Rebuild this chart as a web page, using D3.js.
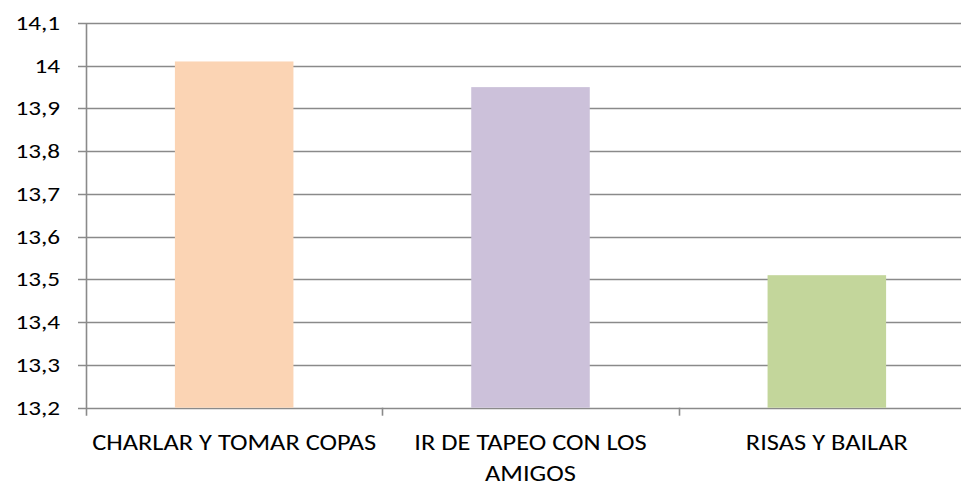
<!DOCTYPE html>
<html>
<head>
<meta charset="utf-8">
<script src="https://cdn.jsdelivr.net/npm/d3@7"></script>
<style>
  body { margin: 0; background: #fff; }
  svg { display: block; font-family: Carlito, Lato, "Open Sans", sans-serif; }
</style>
</head>
<body>
<svg id="chart" width="961" height="485"></svg>
<script>
const categories = [["CHARLAR Y TOMAR COPAS"], ["IR DE TAPEO CON LOS", "AMIGOS"], ["RISAS Y BAILAR"]];
const values = [14.01, 13.95, 13.51];
const colors = ["#FBD4B4", "#CCC1DA", "#C3D69B"];
const yTicks = [13.2, 13.3, 13.4, 13.5, 13.6, 13.7, 13.8, 13.9, 14, 14.1];

const svg = d3.select("#chart");
const margin = { top: 23, left: 86, bottom: 407.7, right: 975 };
const stretch = 1.23; // reference text is drawn wider than normal

// Scales
const x = d3.scaleBand()
    .domain(d3.range(categories.length))
    .range([margin.left, margin.right])
    .paddingInner(0.6)
    .paddingOuter(0.3);

const y = d3.scaleLinear()
    .domain([13.2, 14.1])
    .range([margin.bottom, margin.top]);

const fmt = v => String(+v.toFixed(1)).replace(".", ",");

// Gridlines
svg.append("g")
    .selectAll("line")
    .data(yTicks)
    .enter().append("line")
    .attr("x1", margin.left - 8)
    .attr("x2", 961)
    .attr("y1", d => Math.round(y(d)) + 0.5)
    .attr("y2", d => Math.round(y(d)) + 0.5)
    .attr("stroke", "#8a8a8a")
    .attr("stroke-width", 1.6);

// Y labels
svg.append("g")
    .selectAll("text")
    .data(yTicks)
    .enter().append("text")
    .attr("transform", d => `translate(60,${y(d) + 7}) scale(${stretch},1)`)
    .attr("text-anchor", "end")
    .attr("font-size", 20.5)
    .attr("fill", "#000")
    .text(fmt);

// Bars
svg.selectAll(".bar")
    .data(values)
    .enter().append("rect")
    .attr("class", "bar")
    .attr("x", (d, i) => x(i))
    .attr("y", d => y(d))
    .attr("width", x.bandwidth())
    .attr("height", d => y(13.2) - y(d))
    .attr("fill", (d, i) => colors[i]);

// Axis lines
svg.append("line")
    .attr("x1", margin.left + 0.5).attr("x2", margin.left + 0.5)
    .attr("y1", margin.top).attr("y2", margin.bottom + 8)
    .attr("stroke", "#8a8a8a").attr("stroke-width", 1.6);

svg.append("g")
    .selectAll("line")
    .data(d3.range(1, categories.length + 1))
    .enter().append("line")
    .attr("x1", i => Math.round(margin.left + i * x.step()) + 0.5)
    .attr("x2", i => Math.round(margin.left + i * x.step()) + 0.5)
    .attr("y1", margin.bottom)
    .attr("y2", margin.bottom + 8)
    .attr("stroke", "#8a8a8a").attr("stroke-width", 1.6);

// Category labels
const labels = svg.append("g")
    .selectAll("text")
    .data(categories)
    .enter().append("text")
    .attr("transform", (d, i) => `translate(${x(i) + x.bandwidth() / 2},450) scale(${stretch},1)`)
    .attr("text-anchor", "middle")
    .attr("font-size", 21.5)
    .attr("fill", "#000");

labels.selectAll("tspan")
    .data(d => d)
    .enter().append("tspan")
    .attr("x", 0)
    .attr("dy", (d, i) => i === 0 ? 0 : 31)
    .text(d => d);
</script>
</body>
</html>
